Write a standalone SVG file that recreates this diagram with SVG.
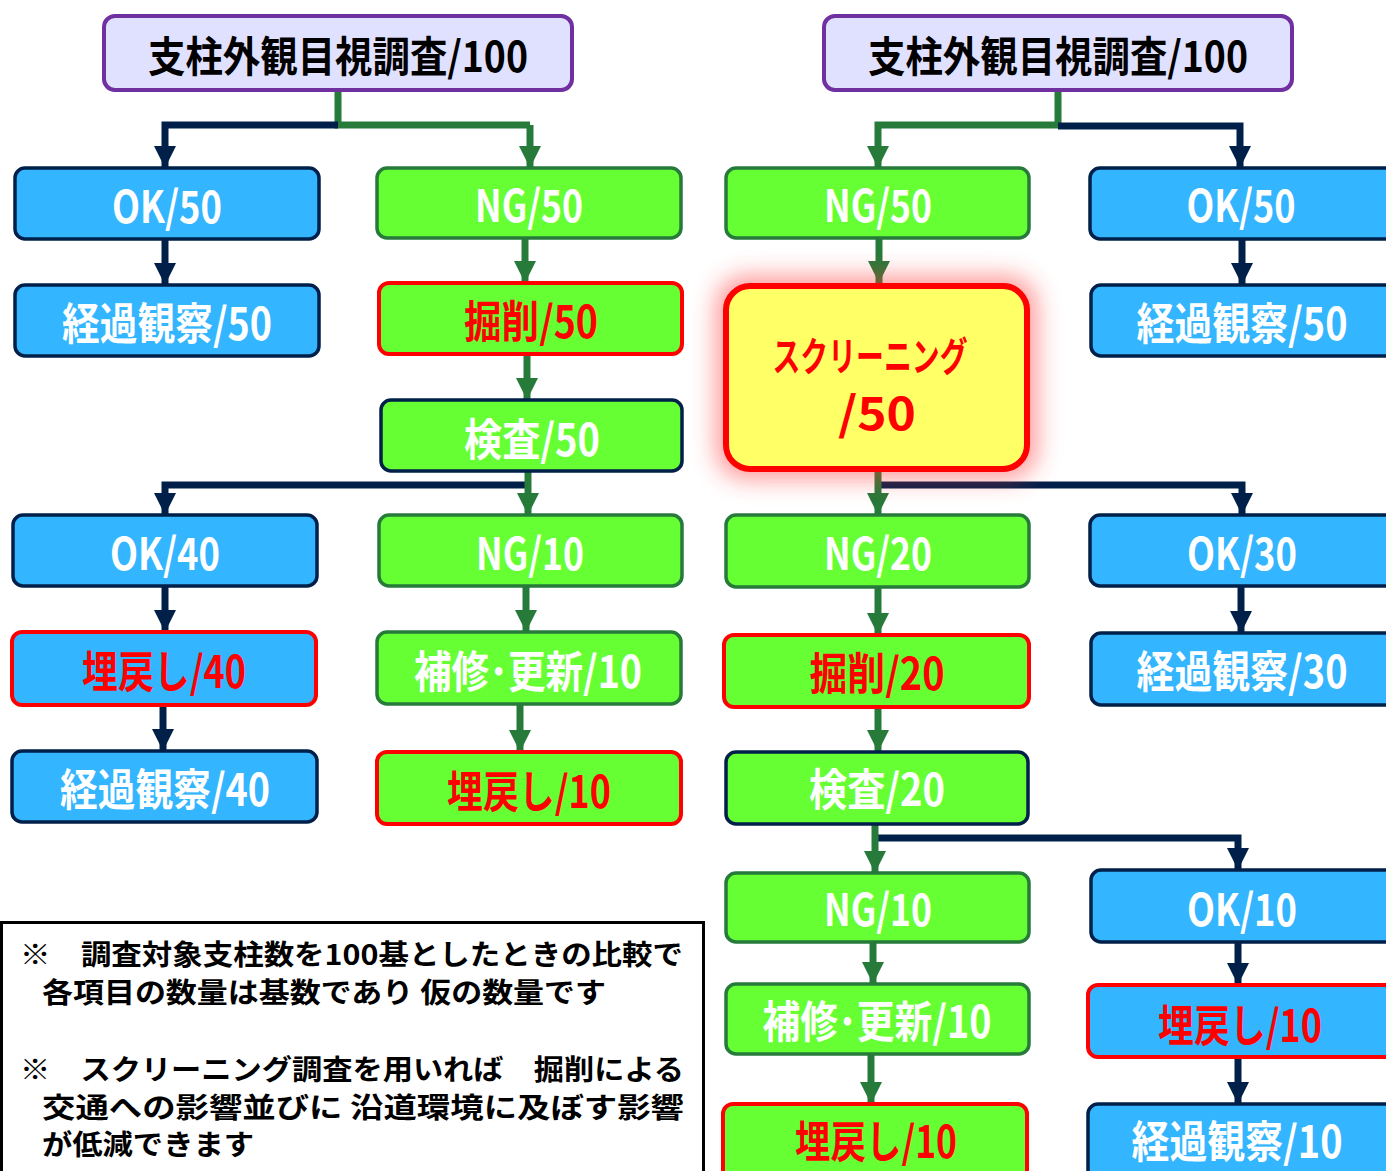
<svg xmlns="http://www.w3.org/2000/svg" width="1386" height="1171" viewBox="0 0 1386 1171">
<style>
.b{fill:#33B5FF;stroke:#00204A;stroke-width:3.5}
.br{fill:#33B5FF;stroke:#FF0000;stroke-width:4}
.g{fill:#66FF33;stroke:#267A3A;stroke-width:3.5}
.gn{fill:#66FF33;stroke:#00204A;stroke-width:3.5}
.gr{fill:#66FF33;stroke:#FF0000;stroke-width:4}
.top{fill:#E0E0FF;stroke:#7030A0;stroke-width:4}
text{font-family:"Noto Sans CJK JP","Noto Sans",sans-serif;font-weight:700;text-anchor:middle}
.t{font-size:44px;fill:#FFFFFF}
.tr{font-size:44px;fill:#FF0000}
.tt{font-size:42px;fill:#000000}
.n{font-size:28px;fill:#000000;text-anchor:start}
.cg{stroke:#267A3A;stroke-width:7;fill:none}
.cn{stroke:#00204A;stroke-width:7;fill:none}
</style>
<defs>
<marker id="ag" viewBox="0 0 10 10" refX="10" refY="5" markerWidth="3.2" markerHeight="3.2" orient="auto" markerUnits="strokeWidth"><path d="M0,0L10,5L0,10z" fill="#267A3A"/></marker>
<marker id="an" viewBox="0 0 10 10" refX="10" refY="5" markerWidth="3.2" markerHeight="3.2" orient="auto" markerUnits="strokeWidth"><path d="M0,0L10,5L0,10z" fill="#00204A"/></marker>
<filter id="glow" x="-40%" y="-40%" width="180%" height="180%"><feGaussianBlur stdDeviation="12"/></filter>
</defs>

<g id="connectors">
<path class="cg" d="M338,90V125H530"/>
<path class="cn" d="M338,125H165V168" marker-end="url(#an)"/>
<path class="cg" d="M530,125V168" marker-end="url(#ag)"/>
<path class="cn" d="M165,239V285" marker-end="url(#an)"/>
<path class="cg" d="M525,238V283" marker-end="url(#ag)"/>
<path class="cg" d="M527,354V400" marker-end="url(#ag)"/>
<path class="cn" d="M528,485H165V515" marker-end="url(#an)"/>
<path class="cg" d="M528,471V515" marker-end="url(#ag)"/>
<path class="cn" d="M165,586V632" marker-end="url(#an)"/>
<path class="cg" d="M526,586V632" marker-end="url(#ag)"/>
<path class="cn" d="M163,705V751" marker-end="url(#an)"/>
<path class="cg" d="M520,704V752" marker-end="url(#ag)"/>

<path class="cg" d="M1058,90V125H878V168" marker-end="url(#ag)"/>
<path class="cn" d="M1058,126H1240V168" marker-end="url(#an)"/>
<path class="cg" d="M879,238V283" marker-end="url(#ag)"/>
<path class="cn" d="M1242,239V285" marker-end="url(#an)"/>
<path class="cn" d="M878,485H1242V515" marker-end="url(#an)"/>
<path class="cg" d="M878,472V515" marker-end="url(#ag)"/>
<path class="cg" d="M878,587V635" marker-end="url(#ag)"/>
<path class="cn" d="M1241,586V633" marker-end="url(#an)"/>
<path class="cg" d="M878,707V752" marker-end="url(#ag)"/>
<path class="cn" d="M875,838H1238V870" marker-end="url(#an)"/>
<path class="cg" d="M875,824V873" marker-end="url(#ag)"/>
<path class="cg" d="M873,942V984" marker-end="url(#ag)"/>
<path class="cn" d="M1238,942V985" marker-end="url(#an)"/>
<path class="cg" d="M871,1054V1104" marker-end="url(#ag)"/>
<path class="cn" d="M1238,1057V1104" marker-end="url(#an)"/>
</g>

<g id="top-left"><rect class="top" x="104" y="16" width="468" height="74" rx="11"/><text class="tt" x="338" y="72" textLength="380" lengthAdjust="spacingAndGlyphs">支柱外観目視調査/100</text></g>
<g id="top-right"><rect class="top" x="824" y="16" width="468" height="74" rx="11"/><text class="tt" x="1058" y="72" textLength="380" lengthAdjust="spacingAndGlyphs">支柱外観目視調査/100</text></g>

<g id="l-ok50"><rect class="b" x="15" y="168" width="304" height="71" rx="10"/><text class="t" x="167" y="223" textLength="110" lengthAdjust="spacingAndGlyphs">OK/50</text></g>
<g id="l-ng50"><rect class="g" x="377" y="168" width="304" height="70" rx="10"/><text class="t" x="529" y="222" textLength="108" lengthAdjust="spacingAndGlyphs">NG/50</text></g>
<g id="l-obs50"><rect class="b" x="15" y="285" width="304" height="71" rx="10"/><text class="t" x="167" y="340" textLength="210" lengthAdjust="spacingAndGlyphs">経過観察/50</text></g>
<g id="l-dig50"><rect class="gr" x="379" y="283" width="303" height="71" rx="10"/><text class="tr" x="531" y="338" textLength="134" lengthAdjust="spacingAndGlyphs">掘削/50</text></g>
<g id="l-insp50"><rect class="gn" x="381" y="400" width="301" height="71" rx="10"/><text class="t" x="532" y="456" textLength="136" lengthAdjust="spacingAndGlyphs">検査/50</text></g>
<g id="l-ok40"><rect class="b" x="13" y="515" width="304" height="71" rx="10"/><text class="t" x="165" y="570" textLength="110" lengthAdjust="spacingAndGlyphs">OK/40</text></g>
<g id="l-ng10"><rect class="g" x="379" y="515" width="303" height="71" rx="10"/><text class="t" x="530" y="570" textLength="108" lengthAdjust="spacingAndGlyphs">NG/10</text></g>
<g id="l-fill40"><rect class="br" x="12" y="632" width="304" height="73" rx="10"/><text class="tr" x="164" y="688" textLength="164" lengthAdjust="spacingAndGlyphs">埋戻し/40</text></g>
<g id="l-rep10"><rect class="g" x="377" y="632" width="304" height="72" rx="10"/><text class="t" x="528" y="688" textLength="228" lengthAdjust="spacingAndGlyphs">補修･更新/10</text></g>
<g id="l-obs40"><rect class="b" x="12" y="751" width="305" height="71" rx="10"/><text class="t" x="165" y="806" textLength="210" lengthAdjust="spacingAndGlyphs">経過観察/40</text></g>
<g id="l-fill10"><rect class="gr" x="377" y="752" width="304" height="72" rx="10"/><text class="tr" x="529" y="808" textLength="164" lengthAdjust="spacingAndGlyphs">埋戻し/10</text></g>

<g id="r-ng50"><rect class="g" x="726" y="168" width="303" height="70" rx="10"/><text class="t" x="878" y="222" textLength="108" lengthAdjust="spacingAndGlyphs">NG/50</text></g>
<g id="r-ok50"><rect class="b" x="1090" y="168" width="310" height="71" rx="10"/><text class="t" x="1241" y="222" textLength="109" lengthAdjust="spacingAndGlyphs">OK/50</text></g>
<g id="r-obs50"><rect class="b" x="1091" y="285" width="310" height="71" rx="10"/><text class="t" x="1242" y="340" textLength="211" lengthAdjust="spacingAndGlyphs">経過観察/50</text></g>
<g id="r-screen">
<rect x="716" y="276" width="321" height="203" rx="30" fill="#FF3030" opacity="0.5" filter="url(#glow)"/>
<rect x="726" y="286" width="301" height="183" rx="24" fill="#FFFF66" stroke="#FF0000" stroke-width="6"/>
<text class="tr" x="870" y="371" style="font-size:40px" textLength="195" lengthAdjust="spacingAndGlyphs">スクリーニング</text>
<text class="tr" x="877" y="430" style="font-size:46px" textLength="78" lengthAdjust="spacingAndGlyphs">/50</text>
</g>
<g id="r-ng20"><rect class="g" x="726" y="515" width="303" height="72" rx="10"/><text class="t" x="878" y="570" textLength="108" lengthAdjust="spacingAndGlyphs">NG/20</text></g>
<g id="r-ok30"><rect class="b" x="1090" y="515" width="310" height="71" rx="10"/><text class="t" x="1242" y="570" textLength="110" lengthAdjust="spacingAndGlyphs">OK/30</text></g>
<g id="r-dig20"><rect class="gr" x="724" y="635" width="305" height="72" rx="10"/><text class="tr" x="877" y="690" textLength="135" lengthAdjust="spacingAndGlyphs">掘削/20</text></g>
<g id="r-obs30"><rect class="b" x="1091" y="633" width="310" height="72" rx="10"/><text class="t" x="1242" y="688" textLength="211" lengthAdjust="spacingAndGlyphs">経過観察/30</text></g>
<g id="r-insp20"><rect class="gn" x="726" y="752" width="302" height="72" rx="10"/><text class="t" x="877" y="806" textLength="136" lengthAdjust="spacingAndGlyphs">検査/20</text></g>
<g id="r-ng10"><rect class="g" x="726" y="873" width="303" height="69" rx="10"/><text class="t" x="878" y="926" textLength="108" lengthAdjust="spacingAndGlyphs">NG/10</text></g>
<g id="r-ok10"><rect class="b" x="1091" y="870" width="310" height="72" rx="10"/><text class="t" x="1242" y="926" textLength="110" lengthAdjust="spacingAndGlyphs">OK/10</text></g>
<g id="r-rep10"><rect class="g" x="726" y="984" width="303" height="70" rx="10"/><text class="t" x="877" y="1038" textLength="229" lengthAdjust="spacingAndGlyphs">補修･更新/10</text></g>
<g id="r-fill10a"><rect class="br" x="1088" y="985" width="310" height="72" rx="10"/><text class="tr" x="1240" y="1042" textLength="164" lengthAdjust="spacingAndGlyphs">埋戻し/10</text></g>
<g id="r-fill10b"><rect class="gr" x="723" y="1104" width="304" height="80" rx="10"/><text class="tr" x="876" y="1158" textLength="162" lengthAdjust="spacingAndGlyphs">埋戻し/10</text></g>
<g id="r-obs10"><rect class="b" x="1088" y="1104" width="310" height="80" rx="10"/><text class="t" x="1237" y="1158" textLength="211" lengthAdjust="spacingAndGlyphs">経過観察/10</text></g>

<g id="note">
<rect x="1.5" y="922.5" width="702" height="260" fill="#FFFFFF" stroke="#000000" stroke-width="3"/>
<text class="n" x="20" y="965" textLength="663" lengthAdjust="spacingAndGlyphs">※　調査対象支柱数を100基としたときの比較で</text>
<text class="n" x="42" y="1003" textLength="564" lengthAdjust="spacingAndGlyphs">各項目の数量は基数であり 仮の数量です</text>
<text class="n" x="20" y="1080" textLength="664" lengthAdjust="spacingAndGlyphs">※　スクリーニング調査を用いれば　掘削による</text>
<text class="n" x="42" y="1118" textLength="642" lengthAdjust="spacingAndGlyphs">交通への影響並びに 沿道環境に及ぼす影響</text>
<text class="n" x="42" y="1155" textLength="212" lengthAdjust="spacingAndGlyphs">が低減できます</text>
</g>
</svg>
